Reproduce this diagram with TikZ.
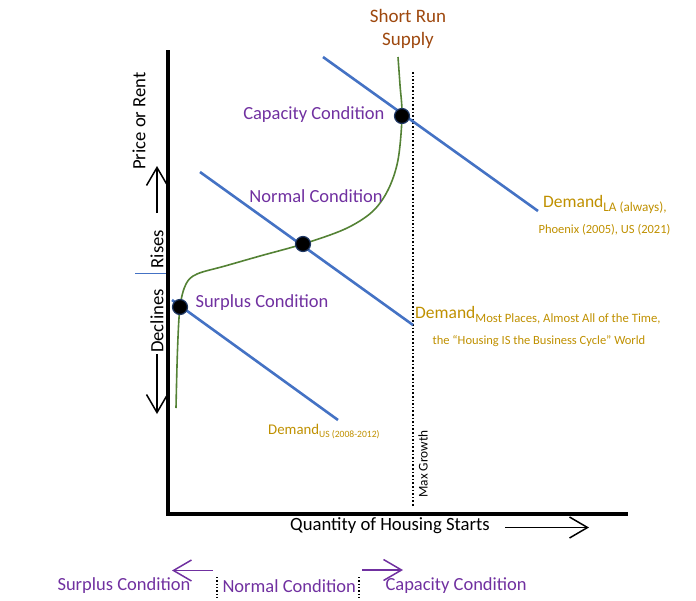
\documentclass[tikz,border=0pt]{standalone}
\usepackage{fontspec}
\setmainfont{Carlito}
\usetikzlibrary{arrows.meta}
\definecolor{dblue}{RGB}{68,114,196}
\definecolor{sgreen}{RGB}{84,130,53}
\definecolor{purp}{RGB}{112,48,160}
\definecolor{gold}{RGB}{191,144,0}
\definecolor{brwn}{RGB}{158,72,14}
\definecolor{dotedge}{RGB}{31,56,100}
\tikzset{
  axis/.style={line width=4pt},
  demand/.style={dblue, line width=2.6pt},
  eqdot/.style={circle, fill=black, draw=dotedge, line width=1.2pt, minimum size=15pt, inner sep=0pt},
  cond/.style={purp, font=\fontsize{18.5}{20}\selectfont},
  botcond/.style={purp, font=\fontsize{18.5}{20}\selectfont},
  dsub/.style={gold, font=\fontsize{12.5}{14}\selectfont, inner sep=0pt},
  blk/.style={font=\fontsize{18.7}{20}\selectfont},
  barb/.style={-{Straight Barb[length=18pt,width=21pt,line width=1.5pt]}, line width=1.5pt},
  maxline/.style={dotted, line width=1.6pt},
}
\begin{document}
\begin{tikzpicture}[x=1pt,y=-1pt]
\useasboundingbox (0,0) rectangle (696,600);
% axes
\coordinate (Ytop) at (168,50);
\coordinate (Xend) at (628,514);
\draw[axis] (Ytop) -- (168,514) -- (Xend);
% x axis label and arrow
\node[blk] (qlab) at (390,526) {Quantity of Housing Starts};
\coordinate (qa1) at (505,527.5);
\coordinate (qa2) at (589,527.5);
\draw[barb] (qa1) -- (qa2);
% y axis labels
\node[blk, rotate=90] (plab) at (139,121) {Price or Rent};
\node[blk, rotate=90] (rlab) at (157,249) {Rises};
\node[blk, rotate=90] (dlab2) at (157,321) {Declines};
\coordinate (ua1) at (157,213);
\coordinate (ua2) at (157,166);
\draw[barb] (ua1) -- (ua2);
\coordinate (da1) at (157,354);
\coordinate (da2) at (157,414);
\draw[barb] (da1) -- (da2);
\coordinate (bl1) at (135,273);
\coordinate (bl2) at (166,273);
\draw[dblue, line width=0.8pt] (bl1) -- (bl2);
% max growth dotted line
\coordinate (m1) at (413,72);
\coordinate (m2) at (413,506);
\draw[maxline] (m1) -- (m2);
\node[font=\fontsize{13.3}{14}\selectfont, rotate=90] (mg) at (423,464) {Max Growth};
% demand lines
\coordinate (la1) at (323,57);
\coordinate (la2) at (538,211);
\coordinate (nm1) at (200,172);
\coordinate (nm2) at (413,325);
\coordinate (us1) at (172,300);
\coordinate (us2) at (338,420);
\draw[demand] (la1) -- (la2);
\draw[demand] (nm1) -- (nm2);
\draw[demand] (us1) -- (us2);
% supply curve
\draw[sgreen, line width=1.6pt] plot[smooth, tension=0.55] coordinates {(176,408) (177.5,350) (180,307) (186,284) (197,274) (225,266) (260,256) (303,244) (345,229) (372,212) (388,190) (398,160) (402,116) (400,85) (398,57)};
% equilibrium dots
\node[eqdot] (cap) at (402,116) {};
\node[eqdot] (nor) at (303,244) {};
\node[eqdot] (sur) at (180,307) {};
% condition labels
\node[cond, anchor=east] (capl) at (388,115) {Capacity Condition};
\node[cond] (norl) at (316,196) {Normal Condition};
\node[cond, anchor=west] (surl) at (192,303) {Surplus Condition};
\node[brwn, font=\fontsize{19}{22.5}\selectfont, align=center] (srs) at (408,29) {Short Run\\Supply};
% demand labels
\node[anchor=base west, inner sep=0pt] (dla) at (543,207) {\textcolor{gold}{\fontsize{17.5}{20}\selectfont Demand}\textcolor{gold}{\raisebox{-4pt}{\fontsize{13.2}{14}\selectfont LA (always),}}};
\node[dsub, anchor=base] (dla2) at (604.5,233) {Phoenix (2005), US (2021)};
\node[anchor=base west, inner sep=0pt] (dmp) at (415,318) {\textcolor{gold}{\fontsize{17.5}{20}\selectfont Demand}\textcolor{gold}{\raisebox{-4pt}{\fontsize{12.7}{14}\selectfont Most Places, Almost All of the Time,}}};
\node[dsub, anchor=base] (dmp2) at (539,344) {the “Housing IS the Business Cycle” World};
\node[anchor=base west, inner sep=0pt] (dus) at (268,434) {\textcolor{gold}{\fontsize{14.8}{16}\selectfont Demand}\textcolor{gold}{\raisebox{-3pt}{\fontsize{9.6}{12}\selectfont US (2008-2012)}}};
% bottom condition strip
\node[botcond, anchor=west] (bs) at (54,586) {Surplus Condition};
\node[botcond, anchor=west] (bn) at (219,586) {Normal Condition};
\node[botcond, anchor=west] (bc) at (382,586) {Capacity Condition};
\coordinate (bd1a) at (217,577);
\coordinate (bd1b) at (217,600);
\coordinate (bd2a) at (359,577);
\coordinate (bd2b) at (359,600);
\draw[maxline, line width=1.3pt] (bd1a) -- (bd1b);
\draw[maxline, line width=1.3pt] (bd2a) -- (bd2b);
\coordinate (la) at (213,570.5);
\coordinate (lb) at (172,570.5);
\coordinate (ra) at (362,570);
\coordinate (rb) at (403,570);
\draw[barb, purp] (la) -- (lb);
\draw[barb, purp] (ra) -- (rb);
\end{tikzpicture}
\end{document}
